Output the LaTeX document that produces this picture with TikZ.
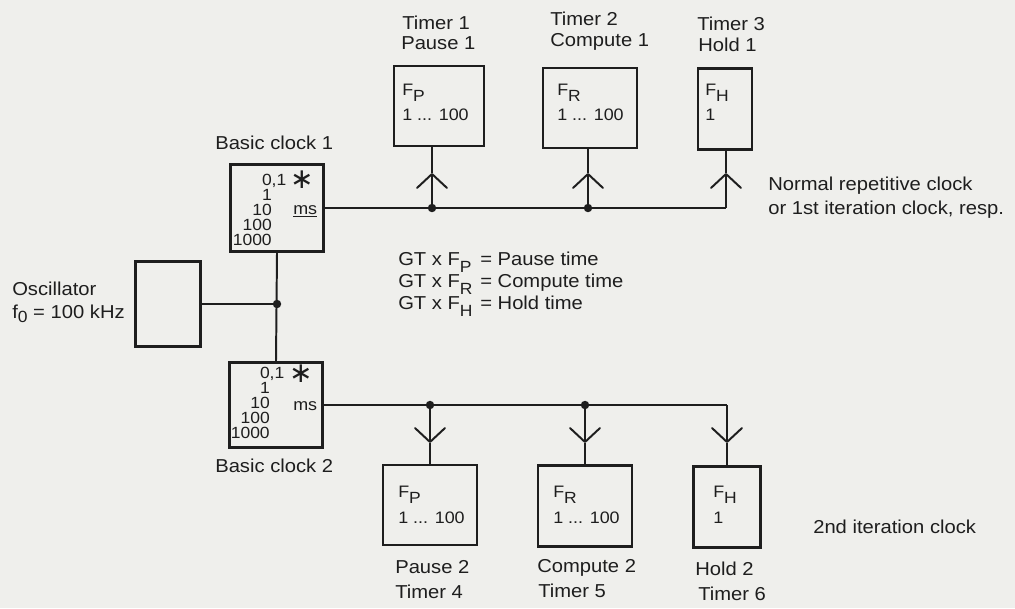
\documentclass[tikz,border=0pt]{standalone}
\usepackage{fontspec}
\setmainfont{Liberation Sans}[FakeStretch=1.08]
\newfontfamily\symfont{DejaVu Sans}
\usetikzlibrary{arrows.meta}

\definecolor{paper}{RGB}{239,239,236}
\definecolor{ink}{RGB}{30,30,30}

% lowered index letter (F_P, f_0)
\newcommand\sbs[2][-0.42em]{\raisebox{#1}{\fontsize{11.5}{12}\selectfont #2}}

\begin{document}
\begin{tikzpicture}[x=0.025cm, y=-0.025cm, font=\fontsize{13.3}{15}\selectfont, color=ink]
    % Styles
    \tikzset{
        unit/.style 2 args={draw, line width=2pt, minimum width=#1*0.025cm,
            minimum height=#2*0.025cm, inner sep=0pt},
        wire/.style={line width=1.4pt},
        tip/.style={line width=1.4pt,
            -{Straight Barb[length=0.35cm, width=0.75cm, line width=1.4pt, round]}},
        txt/.style={anchor=base west, inner sep=0pt},
        num/.style={anchor=base east, inner sep=0pt, font=\fontsize{11.5}{12}\selectfont},
        small/.style={font=\fontsize{11.8}{12}\selectfont},
        starsym/.style={inner sep=0pt, font=\fontsize{20}{20}\selectfont\symfont}
    }
    \fill[paper] (0,0) rectangle (1015,608);
    \useasboundingbox (0,0) rectangle (1015,608);

    % === Oscillator and basic clocks ===
    \node [unit={65}{85}] (osc) at (168,304) {};
    \node [txt] (osclbl) at (12,295) {Oscillator};
    \node [txt] (oscfreq) at (12,318) {f\sbs[-0.25em]{0} = 100 kHz};

    \node [unit={93}{87}] (clk1) at (277,208) {};
    \node [unit={93}{85}] (clk2) at (276,405) {};
    \node [txt] (clk1lbl) at (215,149) {Basic clock 1};
    \node [txt] (clk2lbl) at (215,472) {Basic clock 2};

    % ranges of the basic clocks
    \foreach \v [count=\i] in {{0\rlap{,1}},1,10,100,1000} {
        \node [num] (ra\i) at (272,{185+15*(\i-1)}) {\v};
        \node [num] (rb\i) at (270,{378+15*(\i-1)}) {\v};
    }
    \node [starsym] (stara) at (302,180) {∗};
    \node [starsym] (starb) at (301,374) {∗};
    \node [txt, small] (msa) at (293,214) {\underline{ms}};
    \node [txt, small] (msb) at (293,410) {ms};

    % === Timers of the 1st clock ===
    \node [unit={90}{80}] (tm1) at (439,106) {};
    \node [unit={94}{80}] (tm2) at (590,108) {};
    \node [unit={54}{81}] (tm3) at (725,109) {};
    \node [txt] (tm1a) at (402,29) {Timer 1};
    \node [txt] (tm1b) at (401,49) {Pause 1};
    \node [txt] (tm2a) at (550,25) {Timer 2};
    \node [txt] (tm2b) at (550,46) {Compute 1};
    \node [txt] (tm3a) at (697,30) {Timer 3};
    \node [txt] (tm3b) at (698,51) {Hold 1};
    \node [txt, small] (fp1) at (402,95) {F\sbs{P}};
    \node [txt, small] (rg1) at (402,120) {1 ... 100};
    \node [txt, small] (fr2) at (557,95) {F\sbs{R}};
    \node [txt, small] (rg2) at (557,120) {1 ... 100};
    \node [txt, small] (fh3) at (705,95) {F\sbs{H}};
    \node [txt, small] (rg3) at (705,120) {1};

    % === Timers of the 2nd clock ===
    \node [unit={94}{80}] (tm4) at (430,505) {};
    \node [unit={94}{81}] (tm5) at (585,506) {};
    \node [unit={67}{81}] (tm6) at (727,507) {};
    \node [txt] (tm4a) at (395,573) {Pause 2};
    \node [txt] (tm4b) at (395,598) {Timer 4};
    \node [txt] (tm5a) at (537,572) {Compute 2};
    \node [txt] (tm5b) at (538,597) {Timer 5};
    \node [txt] (tm6a) at (695,575) {Hold 2};
    \node [txt] (tm6b) at (698,600) {Timer 6};
    \node [txt, small] (fp4) at (398,497) {F\sbs{P}};
    \node [txt, small] (rg4) at (398,523) {1 ... 100};
    \node [txt, small] (fr5) at (553,497) {F\sbs{R}};
    \node [txt, small] (rg5) at (553,523) {1 ... 100};
    \node [txt, small] (fh6) at (713,497) {F\sbs{H}};
    \node [txt, small] (rg6) at (713,523) {1};

    % === Notes ===
    \foreach \s/\t [count=\i] in {P/Pause, R/Compute, H/Hold} {
        \node [txt] (gt\i) at (398,{243+22*\i}) {GT x F\sbs{\s}};
        \node [txt] (eq\i) at (480,{243+22*\i}) {= \t\ time};
    }
    \node [txt] (note1) at (768,190) {Normal repetitive clock};
    \node [txt] (note2) at (768,214) {or 1st iteration clock, resp.};
    \node [txt] (note3) at (813,533) {2nd iteration clock};

    % === Connections ===
    \coordinate (j0) at (clk1.south |- osc.east);
    \draw [wire] (osc.east) -- (j0);
    \draw [wire] (clk1.south) -- (clk2.north);

    % 1st clock bus
    \coordinate (j1) at (432,208);
    \coordinate (j2) at (588,208);
    \coordinate (k3) at (726,208);
    \draw [wire] (clk1.east) -- (k3);
    \foreach \p/\t in {j1/tm1, j2/tm2, k3/tm3} {
        \coordinate (a\t) at ([yshift=35*0.025cm]\p);
        \draw [tip] (\p) -- (a\t);
        \draw [wire] (a\t) -- (a\t |- \t.south);
    }

    % 2nd clock bus
    \coordinate (j4) at (clk2.east -| tm4);
    \coordinate (j5) at (clk2.east -| tm5);
    \coordinate (k6) at (clk2.east -| tm6);
    \draw [wire] (clk2.east) -- (k6);
    \foreach \p/\t in {j4/tm4, j5/tm5, k6/tm6} {
        \coordinate (a\t) at ([yshift=-38*0.025cm]\p);
        \draw [tip] (\p) -- (a\t);
        \draw [wire] (a\t) -- (\t.north);
    }

    % junctions
    \foreach \p in {j0, j1, j2, j4, j5}
        \fill (\p) circle (3pt);
\end{tikzpicture}
\end{document}
